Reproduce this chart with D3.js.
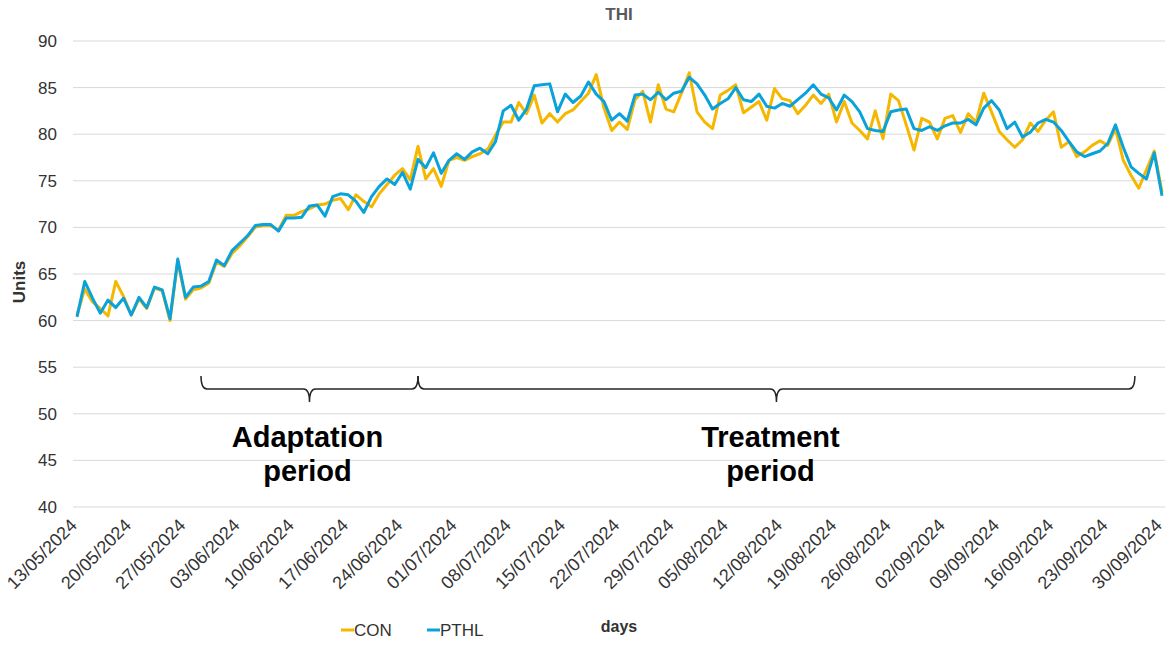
<!DOCTYPE html>
<html>
<head>
<meta charset="utf-8">
<script src="https://cdn.jsdelivr.net/npm/d3@7"></script>
<style>
  body { margin: 0; background: #fff; }
  svg { display: block; font-family: "Liberation Sans", Arial, sans-serif; }
</style>
</head>
<body>
<svg id="svg" width="1170" height="645"></svg>
<script>
const svg = d3.select("#svg");

const width = 1170;
const height = 645;

const parseDate = d3.timeParse("%d/%m/%Y");
const fmtDate = d3.timeFormat("%d/%m/%Y");

// one reading per day, 13/05/2024 .. 30/09/2024
const firstDay = parseDate("13/05/2024");
const lastDay = parseDate("30/09/2024");
const days = d3.timeDay.range(firstDay, d3.timeDay.offset(lastDay, 1));

const conValues = [
  60.6, 63.4, 62.0, 61.3, 60.5, 64.2, 62.6, 60.6, 62.3, 61.3, 63.5, 63.2, 60.0, 66.4, 62.3, 63.3, 63.5, 64.0, 66.3, 65.8, 67.2, 68.0, 69.0, 70.0, 70.2,
  70.2, 69.7, 71.3, 71.3, 71.7, 72.0, 72.4, 72.5, 72.9, 73.1, 71.9, 73.5, 72.8, 72.2, 73.6, 74.6, 75.6, 76.3, 75.1, 78.7, 75.2, 76.3, 74.4, 77.2, 77.5,
  77.2, 77.6, 77.9, 78.4, 79.9, 81.3, 81.3, 83.4, 82.2, 84.2, 81.2, 82.2, 81.3, 82.2, 82.6, 83.5, 84.4, 86.4, 82.8, 80.4, 81.3, 80.5, 83.7, 84.6, 81.3,
  85.3, 82.7, 82.4, 84.4, 86.6, 82.4, 81.3, 80.6, 84.2, 84.7, 85.3, 82.3, 82.9, 83.5, 81.5, 84.9, 83.8, 83.6, 82.2, 83.1, 84.2, 83.3, 84.3, 81.3,
  83.5, 81.2, 80.4, 79.5, 82.5, 79.5, 84.3, 83.6, 81.0, 78.3, 81.7, 81.3, 79.5, 81.7, 82.0, 80.2, 82.2, 81.3, 84.4, 82.4, 80.3, 79.4, 78.6, 79.4, 81.2,
  80.3, 81.5, 82.4, 78.6, 79.2, 77.6, 78.1, 78.8, 79.3, 78.8, 80.6, 77.2, 75.6, 74.2, 76.2, 78.2, 73.8
];

const pthlValues = [
  60.4, 64.2, 62.4, 60.8, 62.2, 61.4, 62.4, 60.6, 62.5, 61.4, 63.6, 63.3, 60.2, 66.6, 62.5, 63.6, 63.7, 64.2, 66.5, 65.9, 67.5, 68.3, 69.1, 70.2, 70.3,
  70.3, 69.6, 71.0, 71.0, 71.1, 72.3, 72.4, 71.2, 73.3, 73.6, 73.5, 72.8, 71.6, 73.3, 74.4, 75.2, 74.6, 75.9, 74.1, 77.3, 76.4, 78.0, 75.8, 77.2, 77.9,
  77.3, 78.1, 78.5, 77.9, 79.2, 82.5, 83.1, 81.5, 82.7, 85.2, 85.3, 85.4, 82.4, 84.3, 83.4, 84.1, 85.6, 84.3, 83.5, 81.5, 82.2, 81.4, 84.2, 84.3, 83.7,
  84.5, 83.7, 84.4, 84.6, 86.1, 85.4, 84.2, 82.7, 83.3, 83.8, 85.0, 83.7, 83.5, 84.3, 83.0, 82.8, 83.3, 83.0, 83.7, 84.4, 85.3, 84.3, 83.9, 82.6,
  84.2, 83.5, 82.4, 80.6, 80.4, 80.3, 82.4, 82.6, 82.7, 80.6, 80.4, 80.8, 80.4, 80.9, 81.2, 81.2, 81.6, 81.0, 82.8, 83.6, 82.6, 80.6, 81.3, 79.7, 80.2,
  81.2, 81.6, 81.3, 80.4, 79.2, 78.1, 77.6, 77.9, 78.2, 79.0, 81.0, 78.6, 76.5, 75.8, 75.2, 78.0, 73.4
];

const seriesNames = ["CON", "PTHL"];
const seriesColors = ["#F5B700", "#0AA2DB"];
const yTicks = [40, 45, 50, 55, 60, 65, 70, 75, 80, 85, 90];

// study periods: adaptation start, switch to treatment, treatment end
const periodNames = ["Adaptation\nperiod", "Treatment\nperiod"];
const periodEdges = ["29/05/2024 00", "26/06/2024 00", "26/09/2024 12"].map(d3.timeParse("%d/%m/%Y %H"));

const x = d3.scaleTime()
  .domain([firstDay, lastDay])
  .range([77, 1162]);

const y = d3.scaleLinear()
  .domain([40, 90])
  .range([507, 41]);

const gridLeft = 73;
const gridRight = 1165;

// horizontal gridlines
svg.append("g")
  .selectAll("line")
  .data(yTicks)
  .join("line")
  .attr("x1", gridLeft)
  .attr("x2", gridRight)
  .attr("y1", (d) => y(d))
  .attr("y2", (d) => y(d))
  .style("stroke", "#d9d9d9")
  .style("stroke-width", 1);

// y axis labels
const yAxis = svg.append("g")
  .attr("transform", `translate(${gridLeft},0)`)
  .call(d3.axisLeft(y).tickValues(yTicks).tickSize(0).tickPadding(16));
yAxis.select(".domain").remove();
yAxis.selectAll("text")
  .style("font-size", "17px")
  .style("font-family", "Liberation Sans, Arial, sans-serif")
  .style("fill", "#333");

// x axis labels, every Monday from the first day
const weekTicks = d3.timeDay.range(firstDay, d3.timeDay.offset(lastDay, 1), 7);
const xAxis = svg.append("g")
  .attr("transform", `translate(0,${y(40)})`)
  .call(d3.axisBottom(x).tickValues(weekTicks).tickFormat(fmtDate).tickSize(0));
xAxis.select(".domain").remove();
xAxis.selectAll("text")
  .attr("text-anchor", "end")
  .attr("dy", "0.35em")
  .attr("y", 0)
  .attr("transform", "translate(-4,15) rotate(-45)")
  .style("font-size", "18px")
  .style("font-family", "Liberation Sans, Arial, sans-serif")
  .style("fill", "#333");

// series lines
const line = d3.line()
  .x((d, i) => x(days[i]))
  .y((d) => y(d));

svg.append("g")
  .selectAll("path")
  .data([conValues, pthlValues])
  .join("path")
  .attr("d", line)
  .style("fill", "none")
  .style("stroke", (d, i) => seriesColors[i])
  .style("stroke-width", 3)
  .style("stroke-linejoin", "round");

// title and axis titles
svg.append("text")
  .attr("x", (gridLeft + gridRight) / 2)
  .attr("y", 20)
  .attr("text-anchor", "middle")
  .style("font-size", "17px")
  .style("font-weight", "bold")
  .style("fill", "#595959")
  .text("THI");

svg.append("text")
  .attr("transform", `translate(25,${(y(40) + y(90)) / 2 + 8}) rotate(-90)`)
  .attr("text-anchor", "middle")
  .style("font-size", "17px")
  .style("font-weight", "bold")
  .style("fill", "#333")
  .text("Units");

svg.append("text")
  .attr("x", (gridLeft + gridRight) / 2)
  .attr("y", 632)
  .attr("text-anchor", "middle")
  .style("font-size", "16px")
  .style("font-weight", "bold")
  .style("fill", "#333")
  .text("days");

// legend
const legend = svg.append("g")
  .selectAll("g")
  .data(seriesNames)
  .join("g")
  .attr("transform", (d, i) => `translate(${341 + i * 86},630)`);
legend.append("line")
  .attr("x1", 0)
  .attr("x2", 13)
  .style("stroke", (d, i) => seriesColors[i])
  .style("stroke-width", 3);
legend.append("text")
  .attr("x", 13)
  .attr("dy", "0.36em")
  .style("font-size", "17px")
  .style("fill", "#333")
  .text((d) => d);

// braces marking the two periods
const braceY = 389;
function bracePath(x1, x2) {
  const xm = (x1 + x2) / 2;
  const r = 6;
  return `M${x1},${braceY - 13} Q${x1},${braceY} ${x1 + r},${braceY}` +
    ` L${xm - r},${braceY} Q${xm},${braceY} ${xm},${braceY + 13}` +
    ` Q${xm},${braceY} ${xm + r},${braceY} L${x2 - r},${braceY}` +
    ` Q${x2},${braceY} ${x2},${braceY - 13}`;
}

const periods = periodNames.map((name, i) => ({
  name,
  x1: x(periodEdges[i]),
  x2: x(periodEdges[i + 1]),
}));

svg.append("g")
  .selectAll("path")
  .data(periods)
  .join("path")
  .attr("d", (d) => bracePath(d.x1, d.x2))
  .style("fill", "none")
  .style("stroke", "#262626")
  .style("stroke-width", 1.5);

const periodText = svg.append("g")
  .selectAll("text")
  .data(periods)
  .join("text")
  .attr("transform", (d, i) => `translate(${(d.x1 + d.x2) / 2 - 2 - i * 4},447)`)
  .attr("text-anchor", "middle");

periodText
  .selectAll("tspan")
  .data((d) => d.name.split("\n"))
  .join("tspan")
  .attr("x", 0)
  .attr("dy", (d, i) => (i ? 34 : 0))
  .style("font-size", "29px")
  .style("font-weight", "bold")
  .style("fill", "#000")
  .text((d) => d);
</script>
</body>
</html>
